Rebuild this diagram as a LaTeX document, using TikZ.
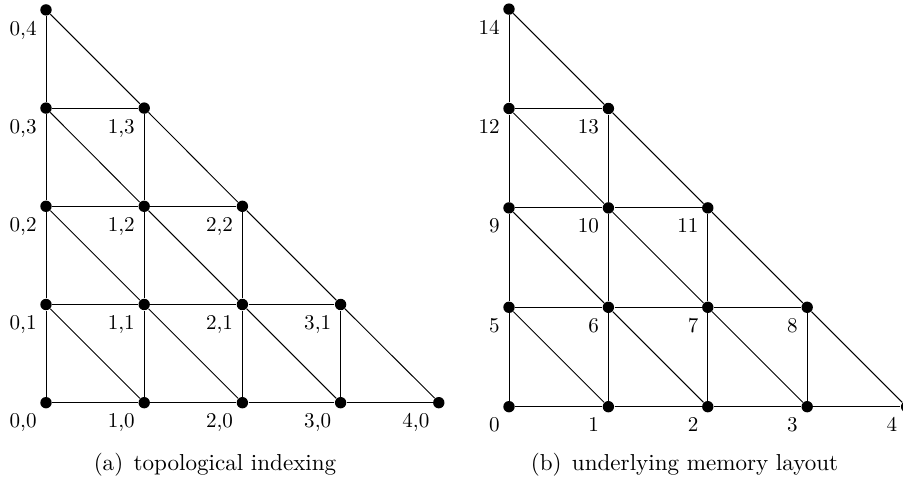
\documentclass[tikz,border=0pt]{standalone}
\usetikzlibrary{calc}
\begin{document}
\begin{tikzpicture}[x=0.4745pt,y=-0.4745pt,
  dot/.style={circle,fill=black,inner sep=0pt,minimum size=5.4pt},
  link/.style={draw=black,line width=0.45pt},
  lab/.style={anchor=north east,inner sep=0pt},
  captext/.style={inner sep=0pt,font=\fontsize{10.95}{13.6}\selectfont}]
\useasboundingbox (0,0) rectangle (903,481);
% nodes
\foreach \i in {0,...,4}{
  \pgfmathtruncatemacro\jm{4-\i}
  \foreach \j in {0,...,\jm}{
    \node[dot] (a-\i-\j) at ({46+98.2*\i},{402.7-98.2*\j}) {};
    \node[dot] (b-\i-\j) at ({509+99.4*\i},{406.7-99.4*\j}) {};
    \node[lab] (la-\i-\j) at ($(a-\i-\j)+(-9,10.5)$) {\i,\j};
    \pgfmathtruncatemacro\k{5*\j-\j*(\j-1)/2+\i}
    \node[lab] (lb-\i-\j) at ($(b-\i-\j)+(-9,10.5)$) {\k};
  }
}
% links
\foreach \j in {0,...,3}{
  \pgfmathtruncatemacro\im{3-\j}
  \foreach \i in {0,...,\im}{
    \pgfmathtruncatemacro\ii{\i+1}
    \pgfmathtruncatemacro\jj{\j+1}
    \draw[link] (a-\i-\j) -- (a-\ii-\j);
    \draw[link] (b-\i-\j) -- (b-\ii-\j);
    \draw[link] (a-\j-\i) -- (a-\j-\ii);
    \draw[link] (b-\j-\i) -- (b-\j-\ii);
    \draw[link] (a-\i-\jj) -- (a-\ii-\j);
    \draw[link] (b-\i-\jj) -- (b-\ii-\j);
  }
}
\node[captext] (capa) at (215,465) {(a)\hspace{0.45em}topological indexing};
\node[captext] (capb) at (684.5,465) {(b)\hspace{0.45em}underlying memory layout};
\end{tikzpicture}
\end{document}
